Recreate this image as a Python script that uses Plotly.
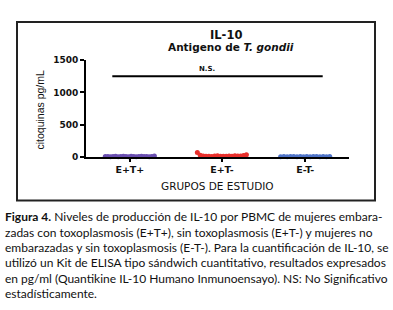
import plotly.graph_objects as go

W, H = 393, 310

categories = ["E+T+", "E+T-", "E-T-"]
cat_positions = [0.5, 1.55, 2.5]
y_ticks = [0, 500, 1000, 1500]

vals_ETp = [5, 8, 3, 6, 10, 4, 7, 12, 5, 3, 9, 6, 4, 8, 11, 5, 7, 3, 6, 14]
vals_ETm = [70, 25, 15, 10, 12, 8, 14, 18, 10, 9, 12, 15, 11, 20, 16, 13, 22, 35]
vals_EmTm = [4, 6, 3, 5, 8, 2, 6, 4, 7, 3, 5, 6, 4, 5, 3, 6]
ns_level = 1250

series = [vals_ETp, vals_ETm, vals_EmTm]
colors = ["#6a4fb0", "#e8302c", "#4f74c8"]

def px2x(p):
    return p / W
def px2y(p):
    return 1 - p / H

fig = go.Figure()
spread = 0.28
for vals, pos, col in zip(series, cat_positions, colors):
    n = len(vals)
    xs = [pos - spread + 2 * spread * i / (n - 1) for i in range(n)]
    fig.add_trace(go.Scatter(x=xs, y=vals, mode="markers",
                             marker=dict(color=col, size=5, line=dict(width=0)),
                             cliponaxis=False, showlegend=False, hoverinfo="skip"))

# N.S. line
fig.add_trace(go.Scatter(x=[cat_positions[0] - 0.2, cat_positions[2] + 0.2], y=[ns_level, ns_level],
                         mode="lines", line=dict(color="black", width=2),
                         showlegend=False, hoverinfo="skip", cliponaxis=False))

AX_FONT = "DejaVu Sans"
fig.update_layout(
    width=W, height=H, margin=dict(l=0, r=0, t=0, b=0),
    paper_bgcolor="white", plot_bgcolor="white",
    font=dict(family=AX_FONT, color="black"),
    xaxis=dict(domain=[px2x(86), px2x(349)], range=[0, 3], showgrid=False, zeroline=False,
               showline=True, linecolor="black", linewidth=2,
               tickmode="array", tickvals=cat_positions, ticktext=categories,
               ticks="outside", ticklen=3, tickwidth=2, tickcolor="black",
               tickfont=dict(size=9.5, family=AX_FONT, color="#111", weight="bold")),
    yaxis=dict(domain=[px2y(157), px2y(57)], range=[0, 1500], showgrid=False, zeroline=False,
               showline=True, linecolor="black", linewidth=2,
               tickmode="array", tickvals=y_ticks, ticktext=[str(t) for t in y_ticks],
               ticks="outside", ticklen=4, tickwidth=2, tickcolor="black",
               tickfont=dict(size=9, family=AX_FONT, color="#111", weight="bold")),
)

# frame
fig.add_shape(type="rect", xref="paper", yref="paper",
              x0=px2x(17), x1=px2x(375), y0=px2y(202), y1=px2y(17.5),
              line=dict(color="#222", width=2))

ann = [
    dict(text="<b>IL-10</b>", x=px2x(226), y=px2y(30.5), size=11.5),
    dict(text="<b>Antigeno de <i>T. gondii</i></b>", x=px2x(231), y=px2y(43.5), size=10.5),
    dict(text="<b>N.S.</b>", x=px2x(206.5), y=px2y(66), size=7),
    dict(text="GRUPOS DE ESTUDIO", x=px2x(217), y=px2y(187), size=10.5),
]
for a in ann:
    fig.add_annotation(text=a["text"], x=a["x"], y=a["y"], xref="paper", yref="paper",
                       showarrow=False, xanchor="center", yanchor="middle",
                       font=dict(size=a["size"], family=AX_FONT, color="#111"))

fig.add_annotation(text="citoquinas pg/mL", x=px2x(40), y=px2y(108), xref="paper", yref="paper",
                   showarrow=False, textangle=-90, xanchor="center", yanchor="middle",
                   font=dict(size=10.5, family="Liberation Sans Narrow, Arial Narrow, Liberation Sans", color="#111"))

caption_lines = [
    "<b>Figura 4.</b> Niveles de producción de IL-10 por PBMC de mujeres embara-",
    "zadas con toxoplasmosis (E+T+), sin toxoplasmosis (E+T-) y mujeres no",
    "embarazadas y sin toxoplasmosis (E-T-). Para la cuantificación de IL-10, se",
    "utilizó un Kit de ELISA tipo sándwich cuantitativo, resultados expresados",
    "en pg/ml (Quantikine IL-10 Humano Inmunoensayo). NS: No Significativo",
    "estadísticamente.",
]
for i, line in enumerate(caption_lines):
    fig.add_annotation(text=line, x=px2x(3), y=px2y(219 + i * 15.8), xref="paper", yref="paper",
                       showarrow=False, xanchor="left", yanchor="middle",
                       font=dict(size=12, family="Lato", color="#111"))

fig.write_html("out.html", config={"displayModeBar": False},
               post_script="document.body.style.margin='0';document.body.style.padding='0';")
